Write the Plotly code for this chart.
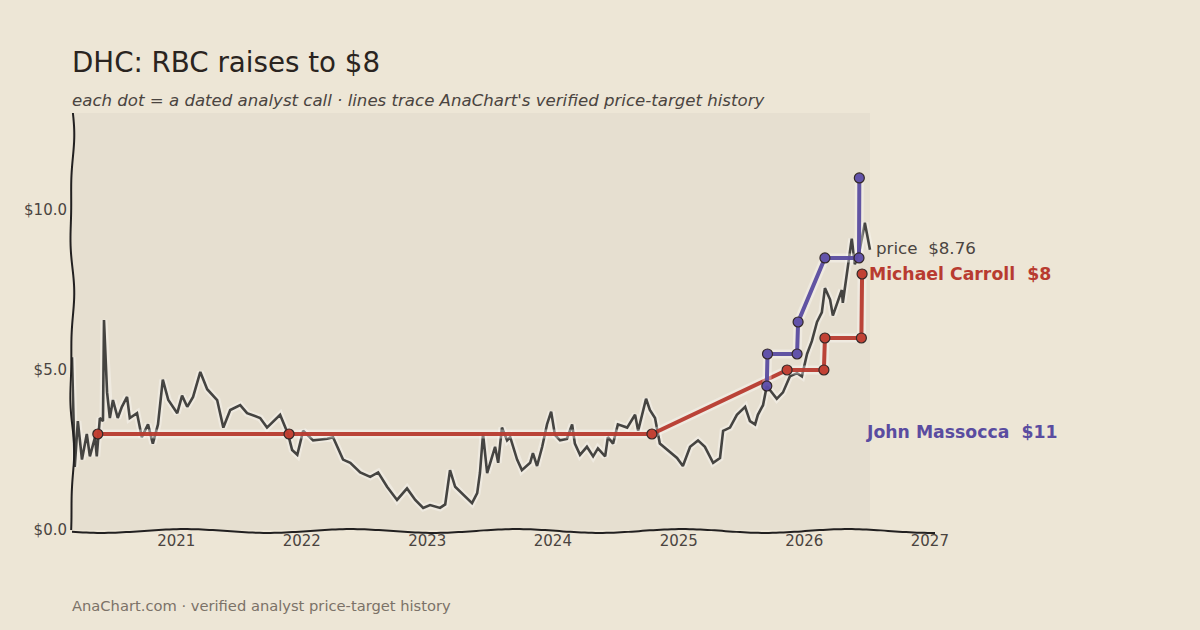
import numpy as np
import plotly.graph_objects as go

# ---------------- data ----------------
price_dates = [
    "2020-03-04", "2020-03-12", "2020-03-21", "2020-04-02", "2020-04-16", "2020-04-25",
    "2020-05-10", "2020-05-15", "2020-05-24", "2020-06-02", "2020-06-05", "2020-06-14",
    "2020-06-22", "2020-07-01", "2020-07-15", "2020-07-27", "2020-08-11", "2020-08-19",
    "2020-09-09", "2020-09-23", "2020-10-11", "2020-10-25", "2020-11-09", "2020-11-23",
    "2020-12-09", "2021-01-04", "2021-01-18", "2021-02-02", "2021-02-19", "2021-03-12",
    "2021-04-01", "2021-04-30", "2021-05-18", "2021-06-07", "2021-07-06", "2021-07-26",
    "2021-09-02", "2021-09-22", "2021-10-30", "2021-11-22", "2021-12-04", "2021-12-19",
    "2022-01-05", "2022-02-03", "2022-03-16", "2022-04-02", "2022-05-01", "2022-05-22",
    "2022-06-20", "2022-07-19", "2022-08-11", "2022-09-06", "2022-10-05", "2022-11-03",
    "2022-11-27", "2022-12-20", "2023-01-09", "2023-02-07", "2023-02-22", "2023-03-08",
    "2023-03-23", "2023-04-15", "2023-05-11", "2023-05-26", "2023-06-03", "2023-06-12",
    "2023-06-24", "2023-07-17", "2023-07-26", "2023-08-06", "2023-08-21", "2023-08-30",
    "2023-09-19", "2023-10-03", "2023-10-27", "2023-11-04", "2023-11-16", "2023-12-01",
    "2023-12-15", "2023-12-27", "2024-01-07", "2024-01-22", "2024-02-11", "2024-02-26",
    "2024-03-05", "2024-03-20", "2024-04-09", "2024-04-27", "2024-05-11", "2024-06-01",
    "2024-06-09", "2024-06-24", "2024-07-08", "2024-08-04", "2024-08-27", "2024-09-05",
    "2024-09-28", "2024-10-09", "2024-10-24", "2024-11-07", "2024-11-28", "2024-12-27",
    "2025-01-13", "2025-02-03", "2025-02-26", "2025-03-18", "2025-04-11", "2025-05-01",
    "2025-05-10", "2025-05-30", "2025-06-19", "2025-07-13", "2025-07-27", "2025-08-11",
    "2025-08-19", "2025-09-03", "2025-09-14", "2025-10-13", "2025-10-31", "2025-11-20",
    "2025-12-11", "2025-12-25", "2026-01-09", "2026-01-23", "2026-02-07", "2026-02-21",
    "2026-03-02", "2026-03-17", "2026-03-25", "2026-04-09", "2026-04-20", "2026-04-23",
    "2026-05-05", "2026-05-14", "2026-05-19", "2026-05-28", "2026-06-12", "2026-06-26",
    "2026-07-05", "2026-07-11",
]
price_values = [
    5.40, 1.97, 3.40, 2.20, 3.00, 2.30,
    2.90, 2.30, 3.50, 3.40, 6.56, 4.30,
    3.50, 4.06, 3.50, 3.85, 4.16, 3.50,
    3.65, 2.90, 3.30, 2.70, 3.30, 4.70,
    4.06, 3.65, 4.20, 3.85, 4.16, 4.94,
    4.40, 4.06, 3.20, 3.75, 3.90, 3.65,
    3.50, 3.20, 3.60, 3.00, 2.50, 2.35,
    3.10, 2.80, 2.85, 2.90, 2.20, 2.10,
    1.80, 1.66, 1.80, 1.35, 0.94, 1.30,
    0.94, 0.69, 0.78, 0.69, 0.80, 1.87,
    1.35, 1.10, 0.84, 1.15, 1.78, 3.00,
    1.78, 2.60, 2.10, 3.20, 2.80, 2.90,
    2.20, 1.87, 2.10, 2.40, 2.00, 2.60,
    3.30, 3.70, 2.97, 2.80, 2.85, 3.30,
    2.70, 2.35, 2.60, 2.30, 2.55, 2.30,
    2.90, 2.70, 3.30, 3.20, 3.60, 3.10,
    4.10, 3.75, 3.50, 2.70, 2.50, 2.25,
    2.00, 2.60, 2.80, 2.60, 2.10, 2.25,
    3.10, 3.20, 3.60, 3.85, 3.40, 3.30,
    3.60, 3.90, 4.50, 4.10, 4.30, 4.80,
    4.90, 4.80, 5.50, 5.90, 6.50, 6.80,
    7.56, 7.20, 6.70, 7.20, 7.50, 7.10,
    8.00, 8.60, 9.10, 8.30, 8.80, 9.60,
    9.06, 8.76,
]

carroll_dates = ["2020-05-18", "2021-11-25", "2024-10-15", "2025-11-12",
                 "2026-02-27", "2026-03-02", "2026-06-16", "2026-06-18"]
carroll_targets = [3, 3, 3, 5, 5, 6, 6, 8]

massocca_dates = ["2025-09-14", "2025-09-16", "2025-12-11", "2025-12-14",
                  "2026-03-02", "2026-06-09", "2026-06-10"]
massocca_targets = [4.5, 5.5, 5.5, 6.5, 8.5, 8.5, 11]

year_ticks = ["2021-01-01", "2022-01-01", "2023-01-01", "2024-01-01",
              "2025-01-01", "2026-01-01", "2027-01-01"]
year_labels = ["2021", "2022", "2023", "2024", "2025", "2026", "2027"]
price_ticks = [0, 5, 10]
price_tick_labels = ["$0.0", "$5.0", "$10.0"]

# ---------------- style ----------------
BG = "#EDE6D6"
PLOT_BG = "#E6DFD0"
INK = "#222020"
TXT = "#4a4440"
RED = "#B83B30"
RED_DOT = "#C0392B"
PURPLE = "#5A4CA0"
PURPLE_DOT = "#5B4BA8"
FONT = "DejaVu Sans"

fig = go.Figure()

# price line (halo + line)
fig.add_trace(go.Scatter(x=price_dates, y=price_values, mode="lines",
                         line=dict(color="rgba(255,255,255,0.35)", width=7),
                         hoverinfo="skip", showlegend=False))
fig.add_trace(go.Scatter(x=price_dates, y=price_values, mode="lines",
                         line=dict(color="#454441", width=2.6),
                         showlegend=False, name="price"))


def analyst(dates, vals, line_col, dot_col, name):
    fig.add_trace(go.Scatter(x=dates, y=vals, mode="lines",
                             line=dict(color="rgba(255,255,255,0.35)", width=9),
                             hoverinfo="skip", showlegend=False))
    fig.add_trace(go.Scatter(x=dates, y=vals, mode="lines+markers",
                             line=dict(color=line_col, width=4),
                             marker=dict(size=10, color=dot_col,
                                         line=dict(color="#2a1f1f", width=1.2)),
                             opacity=0.95, showlegend=False, name=name))


analyst(carroll_dates, carroll_targets, RED, RED_DOT, "Michael Carroll")
analyst(massocca_dates, massocca_targets, PURPLE, PURPLE_DOT, "John Massocca")

# shaded plotting region up to the last price date
fig.add_shape(type="rect", xref="x", yref="paper", x0="2020-01-01", x1=price_dates[-1],
              y0=0, y1=1, fillcolor=PLOT_BG, line=dict(width=0), layer="below")


# hand-drawn (wavy) axis lines, decorative only
def wavy_path(xs, ys):
    pts = [f"{'M' if i == 0 else 'L'} {x:.5f},{y:.5f}" for i, (x, y) in enumerate(zip(xs, ys))]
    return " ".join(pts)


t = np.linspace(0, 1, 240)
W, H = 863.0, 417.0
left_x = (np.sin(t * 2 * np.pi * 2.6 + 0.6) * 1.6 + np.sin(t * 2 * np.pi * 5.3) * 0.7) / W
left_y = 1 - t
bottom_x = t * 1.0
bottom_y = (np.sin(t * 2 * np.pi * 5.2 + 3.6) * 1.9 - 1.0) / H
for xs, ys in [(left_x, left_y), (bottom_x, bottom_y)]:
    fig.add_shape(type="path", xref="paper", yref="paper",
                  path=wavy_path(xs, ys), line=dict(color=INK, width=2), layer="above")

# labels
last_date = price_dates[-1]
fig.add_annotation(x=last_date, y=price_values[-1] + 0.05, xref="x", yref="y",
                   text=f"price  ${price_values[-1]:.2f}", showarrow=False,
                   xanchor="left", yanchor="middle", xshift=4,
                   font=dict(family=FONT, size=16.7, color=TXT))
fig.add_annotation(x=last_date, y=carroll_targets[-1], xref="x", yref="y",
                   text=f"<b>Michael Carroll  ${carroll_targets[-1]}</b>", showarrow=False,
                   xanchor="left", yanchor="middle", xshift=-3,
                   font=dict(family=FONT, size=17.3, color=RED))
fig.add_annotation(x=last_date, y=3.05, xref="x", yref="y",
                   text=f"<b>John Massocca  ${massocca_targets[-1]}</b>", showarrow=False,
                   xanchor="left", yanchor="middle", xshift=-6,
                   font=dict(family=FONT, size=17.3, color=PURPLE))

# title, subtitle, footer
fig.add_annotation(x=0, y=1.12, xref="paper", yref="paper", text="DHC: RBC raises to $8",
                   showarrow=False, xanchor="left", yanchor="middle", xshift=-2,
                   font=dict(family=FONT, size=27.7, color="#2a2420"))
fig.add_annotation(x=0, y=1.031, xref="paper", yref="paper",
                   text="<i>each dot = a dated analyst call · lines trace AnaChart's verified price-target history</i>",
                   showarrow=False, xanchor="left", yanchor="middle", xshift=-2,
                   font=dict(family=FONT, size=16.6, color=TXT))
fig.add_annotation(x=0, y=-0.182, xref="paper", yref="paper",
                   text="AnaChart.com · verified analyst price-target history",
                   showarrow=False, xanchor="left", yanchor="middle", xshift=-2,
                   font=dict(family=FONT, size=14.7, color="#7b7268"))

fig.update_layout(
    width=1200, height=630,
    margin=dict(l=72, r=265, t=113, b=100),
    paper_bgcolor=BG, plot_bgcolor=BG,
    font=dict(family=FONT, color=TXT),
    xaxis=dict(type="date", range=["2020-03-04", "2027-01-16"],
               tickvals=year_ticks, ticktext=year_labels,
               showgrid=False, zeroline=False, showline=False, ticks="",
               tickfont=dict(family=FONT, size=15, color=TXT)),
    yaxis=dict(range=[0, 13.03], tickvals=price_ticks, ticktext=price_tick_labels,
               showgrid=False, zeroline=False, showline=False, ticks="",
               ticklabelstandoff=4,
               tickfont=dict(family=FONT, size=15, color=TXT)),
    showlegend=False,
)

fig.write_html("out.html")
